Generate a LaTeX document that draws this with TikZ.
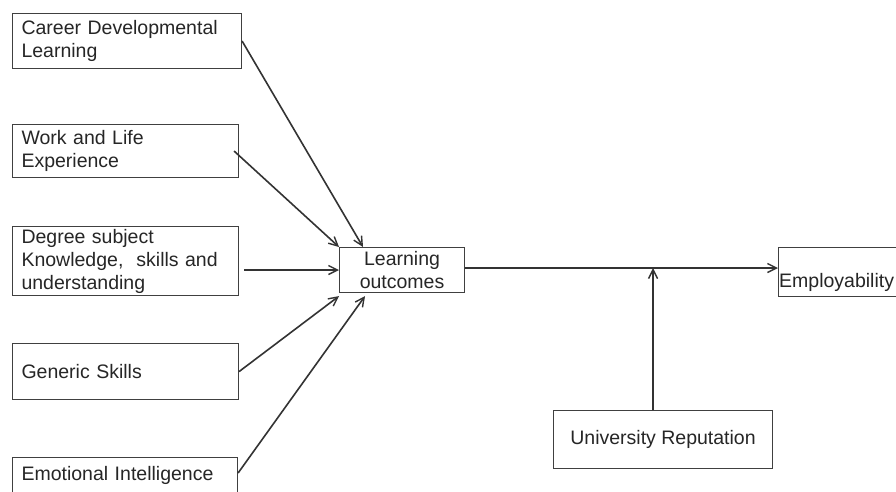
\documentclass[tikz,border=0pt]{standalone}
\usepackage{fontspec}
\setmainfont{Liberation Sans}
\usetikzlibrary{arrows.meta,calc}
\begin{document}
\begin{tikzpicture}[x=1pt,y=-1pt,
  box/.style={draw=black!75,line width=1.1pt,rectangle,anchor=north west,inner xsep=9pt,inner ysep=0pt,
    align=left,font=\fontsize{19.5pt}{23pt}\selectfont,text=black!85},
  arr/.style={draw=black!80,line width=1.6pt,-{Straight Barb[length=9pt,width=9pt,line width=1.4pt]}}]
\clip (0,0) rectangle (896,491);
\fill[white] (0,0) rectangle (896,491);
\node[box,minimum width=229pt,minimum height=55pt,text width=211pt] (career) at (12,13) {Career Developmental\\Learning};
\node[box,minimum width=226pt,minimum height=53pt,text width=208pt] (work) at (12,124) {Work and Life\\Experience};
\node[box,minimum width=226pt,minimum height=69pt,text width=208pt] (degree) at (12,226) {Degree subject\\Knowledge,~ skills and\\understanding};
\node[box,minimum width=226pt,minimum height=56pt,text width=208pt] (generic) at (12,343) {Generic Skills};
\node[box,minimum width=225pt,minimum height=36pt,text width=207pt] (emo) at (12,457) {Emotional Intelligence};
\node[box,minimum width=125pt,minimum height=45pt,align=center,inner xsep=2pt] (lo) at (339,247) {Learning\\outcomes};
\node[box,minimum width=130pt,minimum height=49pt] (emp) at (778,247) {};
\node[anchor=west,inner sep=0pt,font=\fontsize{19.5pt}{23pt}\selectfont,text=black!85] (emptext) at (779,282) {Employability};
\node[box,minimum width=219pt,minimum height=58pt,align=center] (univ) at (553,410) {University Reputation};
\draw[arr] (career.east) -- ([xshift=24pt]lo.north west);
\draw[arr] ([xshift=-5pt]work.east) -- (lo.north west);
\draw[arr] ([xshift=5pt]degree.east |- lo.west) -- (lo.west);
\draw[arr] (generic.east) -- ([yshift=-3pt]lo.south west);
\draw[arr] ([yshift=-16pt]emo.north east) -- ([xshift=26pt,yshift=-3pt]lo.south west);
\draw[arr] ([yshift=2pt]lo.east) -- ([yshift=2pt]lo.east -| emp.west);
\draw[arr] ([xshift=-10pt]univ.north) -- ([xshift=-10pt,yshift=2pt]univ.north |- lo.east);
\end{tikzpicture}
\end{document}
